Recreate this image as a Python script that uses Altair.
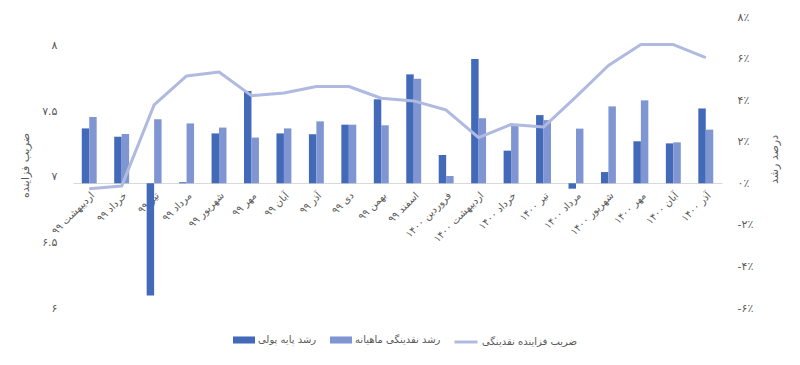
import altair as alt
import pandas as pd

# ---------------- data ----------------
months = [
    "اردیبهشت ۹۹", "خرداد ۹۹", "تیر ۹۹", "مرداد ۹۹", "شهریور ۹۹", "مهر ۹۹",
    "آبان ۹۹", "آذر ۹۹", "دی ۹۹", "بهمن ۹۹", "اسفند ۹۹", "فروردین ۱۴۰۰",
    "اردیبهشت ۱۴۰۰", "خرداد ۱۴۰۰", "تیر ۱۴۰۰", "مرداد ۱۴۰۰", "شهریور ۱۴۰۰",
    "مهر ۱۴۰۰", "آبان ۱۴۰۰", "آذر ۱۴۰۰",
]
# monthly base-money growth (%)
base_money_growth = [2.64, 2.24, -5.40, 0.05, 2.40, 4.44, 2.40, 2.36, 2.82, 4.04,
                     5.24, 1.36, 5.98, 1.57, 3.28, -0.26, 0.54, 2.02, 1.92, 3.60]
# monthly liquidity growth (%)
liquidity_growth = [3.19, 2.37, 3.08, 2.88, 2.68, 2.20, 2.64, 2.98, 2.82, 2.79,
                    5.03, 0.35, 3.13, 2.84, 3.04, 2.63, 3.70, 3.99, 1.97, 2.58]
# liquidity multiplier
multiplier = [6.91, 6.93, 7.55, 7.77, 7.80, 7.62, 7.64, 7.69, 7.69, 7.60,
              7.58, 7.51, 7.30, 7.40, 7.38, 7.61, 7.85, 8.01, 8.01, 7.91]

s_base = "رشد پایه پولی"
s_liq = "رشد نقدینگی ماهیانه"
s_mult = "ضریب فزاینده نقدینگی"

left_ticks = [6, 6.5, 7, 7.5, 8]
left_labels = ["۶", "۶.۵", "۷", "۷.۵", "۸"]
right_ticks = [-6, -4, -2, 0, 2, 4, 6, 8]
right_labels = ["-۶٪", "-۴٪", "-۲٪", "۰٪", "۲٪", "۴٪", "۶٪", "۸٪"]

# ---------------- tables ----------------
bars_df = pd.DataFrame(
    [{"month": m, "series": s_base, "value": v} for m, v in zip(months, base_money_growth)]
    + [{"month": m, "series": s_liq, "value": v} for m, v in zip(months, liquidity_growth)]
)
line_df = pd.DataFrame({"month": months, "series": s_mult, "mult": multiplier})


def label_expr(ticks, labels):
    parts = [f"datum.value == {t} ? '{l}'" for t, l in zip(ticks, labels)]
    return " : ".join(parts) + " : ''"


FONT = "DejaVu Sans"
TXT = "#595959"
DARK = "#4369B9"
LIGHT = "#7F96D3"
LINE = "#B0BAE0"

x_axis = alt.Axis(
    title=None, ticks=False, labelAngle=-45, labelAlign="right",
    labelBaseline="top", labelPadding=7, labelFontSize=10,
    labelColor=TXT, labelFont=FONT, labelOverlap=False, labelBound=False,
    domainColor="#D9D9D9", domainWidth=1, offset=-125, grid=False,
)
x_scale = alt.Scale(paddingInner=0.54, paddingOuter=0.27)

bars = alt.Chart(bars_df).mark_bar().encode(
    x=alt.X("month:N", sort=months, scale=x_scale, axis=x_axis),
    xOffset=alt.XOffset("series:N", sort=[s_base, s_liq],
                        scale=alt.Scale(paddingInner=0, paddingOuter=0)),
    y=alt.Y(
        "value:Q",
        scale=alt.Scale(domain=[-6, 8], nice=False, zero=False),
        axis=alt.Axis(
            orient="right", values=right_ticks,
            labelExpr=label_expr(right_ticks, right_labels),
            title="درصد رشد", grid=False, ticks=False, domain=False,
            labelPadding=15, labelFontSize=11, labelColor=TXT, labelFont=FONT,
            titleFontSize=11, titleColor=TXT, titleFont=FONT, titleFontWeight="normal",
            titleAngle=-90, titleX=52, titleY=142, titleAlign="center",
            titleBaseline="middle",
        ),
    ),
    color=alt.Color(
        "series:N",
        scale=alt.Scale(domain=[s_base, s_liq], range=[DARK, LIGHT]),
        legend=alt.Legend(
            title=None, orient="none", direction="horizontal",
            legendX=160, legendY=312, padding=0,
            symbolType="M-1,-0.32L1,-0.32L1,0.32L-1,0.32Z", symbolSize=484,
            symbolStrokeWidth=0, labelOffset=3, columnPadding=13,
            labelFontSize=10, labelColor=TXT, labelFont=FONT,
        ),
    ),
)

line = alt.Chart(line_df).mark_line(strokeWidth=3, strokeJoin="round").encode(
    x=alt.X("month:N", sort=months, scale=x_scale, axis=x_axis),
    y=alt.Y(
        "mult:Q",
        scale=alt.Scale(domain=[6, 8.22], nice=False, zero=False),
        axis=alt.Axis(
            orient="left", values=left_ticks,
            labelExpr=label_expr(left_ticks, left_labels),
            title="ضریب فزاینده", grid=False, ticks=False, domain=False,
            labelPadding=16, labelFontSize=11, labelColor=TXT, labelFont=FONT,
            titleFontSize=11, titleColor=TXT, titleFont=FONT, titleFontWeight="normal",
            titleAngle=-90, titleX=-48, titleY=148, titleAlign="center",
            titleBaseline="middle",
        ),
    ),
    color=alt.Color(
        "series:N",
        scale=alt.Scale(domain=[s_mult], range=[LINE]),
        legend=alt.Legend(
            title=None, orient="none", direction="horizontal",
            legendX=380, legendY=312, padding=0,
            symbolType="stroke", symbolSize=529, symbolStrokeWidth=3,
            labelOffset=3, labelFontSize=10, labelColor=TXT, labelFont=FONT,
        ),
    ),
)

chart = (
    alt.layer(bars, line)
    .resolve_scale(y="independent", color="independent")
    .properties(
        width=649, height=291,
        autosize=alt.AutoSizeParams(type="none"),
        padding={"left": 73, "top": 17, "right": 78, "bottom": 57},
        background="white",
    )
    .configure_view(stroke=None)
)

chart.save("out.html", embed_options={"renderer": "svg", "actions": False})
